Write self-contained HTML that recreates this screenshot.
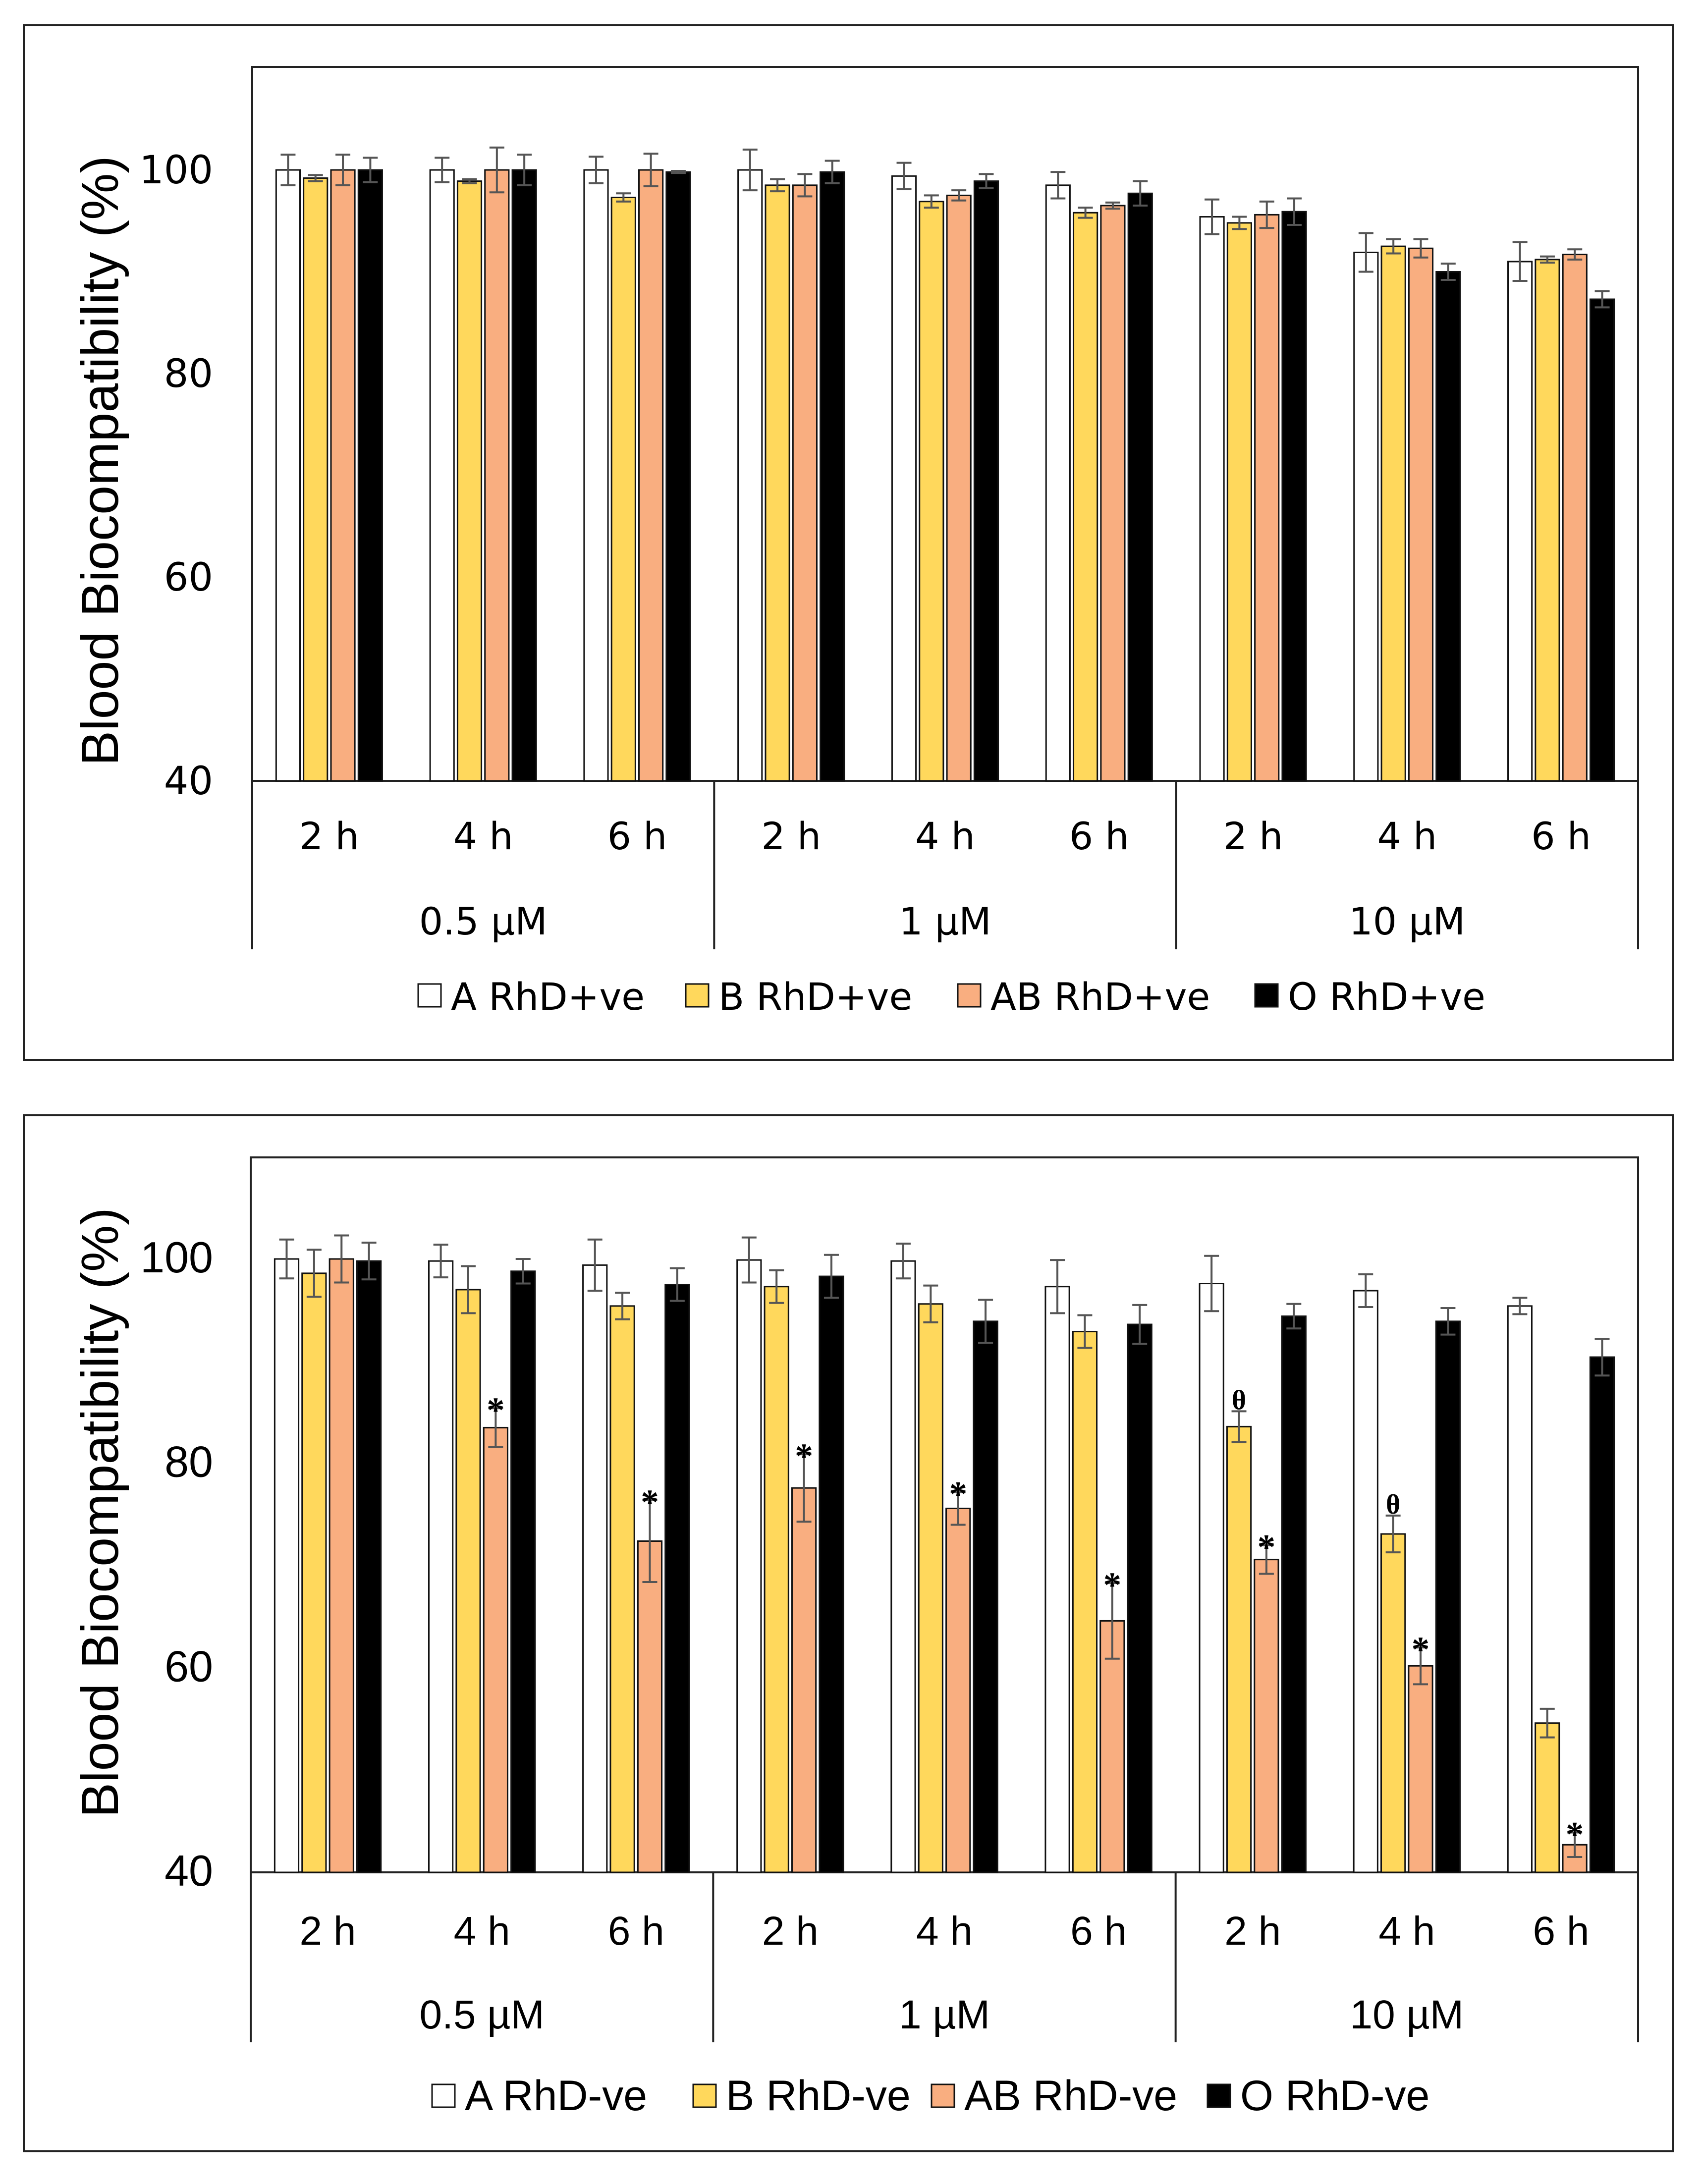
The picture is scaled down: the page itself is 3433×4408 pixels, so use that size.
<!DOCTYPE html>
<html><head><meta charset="utf-8"><style>
html,body{margin:0;padding:0;background:#fff}
svg{display:block}
</style></head><body>
<svg id="c" width="3433" height="4408" xmlns="http://www.w3.org/2000/svg"></svg>
<script>
const categories=["2 h","4 h","6 h","2 h","4 h","6 h","2 h","4 h","6 h"];
const concentrations=["0.5 µM","1 µM","10 µM"];
const yTicks=[40,60,80,100];
const seriesPos=["A RhD+ve","B RhD+ve","AB RhD+ve","O RhD+ve"];
const seriesNeg=["A RhD-ve","B RhD-ve","AB RhD-ve","O RhD-ve"];
const posA=[100,100,100,100,99.4,98.5,95.4,91.9,91];
const posB=[99.2,98.9,97.3,98.5,96.9,95.8,94.8,92.5,91.2];
const posAB=[100,100,100,98.5,97.5,96.5,95.6,92.3,91.7];
const posO=[100,100,99.8,99.8,98.9,97.7,95.9,90,87.3];
const posAErr=[1.5,1.2,1.3,2,1.3,1.3,1.7,1.9,1.9];
const posBErr=[0.3,0.2,0.4,0.6,0.6,0.5,0.6,0.7,0.3];
const posABErr=[1.5,2.2,1.6,1.1,0.5,0.3,1.3,0.9,0.5];
const posOErr=[1.2,1.5,0.1,1.1,0.7,1.2,1.3,0.8,0.8];
const negA=[100,99.8,99.4,99.9,99.8,97.3,97.6,96.9,95.4];
const negB=[98.6,97,95.4,97.3,95.6,92.9,83.6,73.1,54.6];
const negAB=[100,83.5,72.4,77.6,75.6,64.6,70.6,60.2,42.7];
const negO=[99.8,98.8,97.5,98.3,93.9,93.6,94.4,93.9,90.4];
const negAErr=[1.9,1.6,2.5,2.2,1.7,2.6,2.7,1.6,0.8];
const negBErr=[2.3,2.3,1.3,1.6,1.8,1.6,1.5,1.8,1.4];
const negABErr=[2.3,1.9,4,3.3,1.6,3.7,1.4,1.8,1.2];
const negOErr=[1.8,1.2,1.6,2.1,2.1,1.9,1.2,1.3,1.8];
const negBMarks=["","","","","","","θ","θ",""];
const negABMarks=["","*","*","*","*","*","*","*","*"];

const colors=["#ffffff","#ffd85c","#f9ae80","#000000"];
const NS="http://www.w3.org/2000/svg";
const svg=document.getElementById('c');
function mk(tag,attrs,parent,text){const e=document.createElementNS(NS,tag);for(const k in attrs)e.setAttribute(k,attrs[k]);if(text!==undefined)e.textContent=text;(parent||svg).appendChild(e);return e;}

function chart(o){
  const g=mk('g',{});
  
  
  const box=mk('rect',{x:o.box[0],y:o.box[1],width:o.box[2],height:o.box[3],fill:'none',stroke:'#222','stroke-width':4},g);
  
  
  const L=o.left,R=o.right,T=o.top;
  const yS=v=>o.y40+(v-40)*(o.y100-o.y40)/60;
  const frame=mk('path',{d:`M${L},${o.lineBottom} L${L},${T} L${R},${T} L${R},${o.lineBottom}`,fill:'none',stroke:'#222','stroke-width':4},g);
  
  
  const base=mk('line',{x1:L,x2:R,y1:yS(40),y2:yS(40),stroke:'#222','stroke-width':4},g);
  
  
  const G=(R-L)/categories.length;
  const xS=i=>L+G*i;
  [3,6].forEach(i=>{const s=mk('line',{x1:xS(i),x2:xS(i),y1:yS(40),y2:o.lineBottom,stroke:'#222','stroke-width':4},g);
    
    });
  yTicks.forEach(v=>{const t=mk('text',{x:o.tickX,y:yS(v)+27,'text-anchor':'end','font-size':o.narrow?88:78,'font-family':o.font},g,String(v));
    
    });
  const ty=mk('text',{transform:`translate(${o.titleX},${o.titleY}) rotate(-90)`,'text-anchor':'middle','font-size':106,'font-family':'"Liberation Sans",sans-serif'},g,'Blood Biocompatibility (%)');
  
  
  categories.forEach((c,i)=>{const t=mk('text',{x:xS(i)+G/2,y:o.hourY,'text-anchor':'middle','font-size':o.narrow?82:76,'font-family':o.font},g,c);
    
    });
  concentrations.forEach((c,i)=>{const t=mk('text',{x:xS(i*3)+G*1.5,y:o.concY,'text-anchor':'middle','font-size':o.narrow?82:76,'font-family':o.font},g,c);
    
    });
  const bw=G*0.155,step=G*0.178;
  o.vals.forEach((arr,s)=>{
    arr.forEach((v,i)=>{
      const x=xS(i)+G/2+(s-1.5)*step-bw/2;
      const r=mk('rect',{x:x,y:yS(v),width:bw,height:yS(40)-yS(v),fill:colors[s],stroke:'#111','stroke-width':3},g);
      
      
      const e=o.errs[s][i],cx=x+bw/2;
      const eb=mk('path',{d:`M${cx},${yS(v+e)} L${cx},${yS(v-e)} M${cx-15},${yS(v+e)} L${cx+15},${yS(v+e)} M${cx-15},${yS(v-e)} L${cx+15},${yS(v-e)}`,stroke:'#555','stroke-width':4,fill:'none'},g);
      
      
      const m=o.marks&&o.marks[s]?o.marks[s][i]:'';
      if(m){const t=mk('text',{x:cx,y:yS(v+e)+(m==='*'?28:-4),'text-anchor':'middle','font-size':m==='*'?72:56,'font-family':'"Liberation Serif",serif','font-weight':'bold'},g,m);
        
        }
    });
  });
  o.series.forEach((s,k)=>{
    const lg=mk('g',{},g);
    
    
    mk('rect',{x:o.legX[k],y:o.legY-52,width:46,height:46,fill:colors[k],stroke:'#111','stroke-width':3},lg);
    mk('text',{x:o.legX[k]+66,y:o.legY,'font-size':o.narrow?86:76,'font-family':o.font},lg,s);
  });
}
chart({name:'chart-rhd-positive',box:[48,51,3329,2088],left:509,right:3306,top:135,y40:1576,y100:343,lineBottom:1916,
 tickX:430,titleX:238,titleY:930,hourY:1714,concY:1886,legY:2038,legX:[844,1384,1933,2533],
 font:'"DejaVu Sans","Liberation Sans",sans-serif',series:seriesPos,
 vals:[posA,posB,posAB,posO],errs:[posAErr,posBErr,posABErr,posOErr]});
chart({name:'chart-rhd-negative',box:[48,2251,3329,2091],left:506,right:3306,top:2336,y40:3779,y100:2541,lineBottom:4122,
 tickX:430,titleX:238,titleY:3053,hourY:3925,concY:4094,legY:4259,legX:[872,1399,1880,2437],
 font:'"Liberation Sans Narrow","Liberation Sans",sans-serif',narrow:true,series:seriesNeg,
 vals:[negA,negB,negAB,negO],errs:[negAErr,negBErr,negABErr,negOErr],marks:[null,negBMarks,negABMarks,null]});
</script>
</body></html>
